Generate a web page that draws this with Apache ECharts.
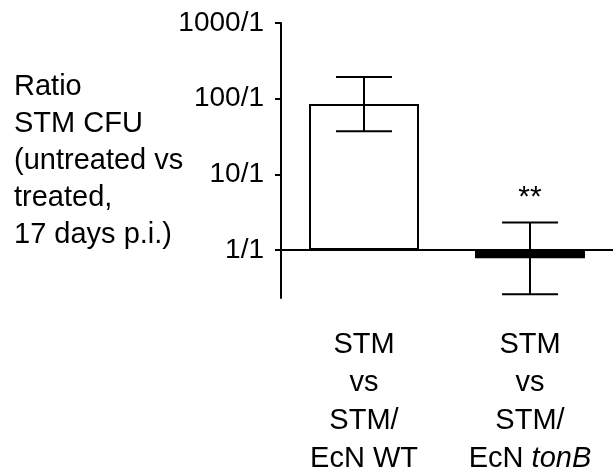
<!DOCTYPE html>
<html>
<head>
<meta charset="utf-8">
<script src="https://cdn.jsdelivr.net/npm/echarts@6/dist/echarts.min.js"></script>
<style>
  html, body { margin: 0; padding: 0; background: #fff; }
  #chart { width: 613px; height: 469px; }
</style>
</head>
<body>
<div id="chart"></div>
<script>
// groups on the x axis
var categories = ['WT', 'tonB'];
// ratio of STM CFU (untreated / treated), log scale
var ratio = [85, 0.78];
var errLow = [37, 0.26];
var errHigh = [193, 2.3];
var signif = ['', '**'];
var yTicks = [1, 10, 100, 1000];

var font = '"Liberation Sans", Arial, sans-serif';
var chart = echarts.init(document.getElementById('chart'));

var option = {
  animation: false,
  grid: { left: 281, right: 0, top: 23, bottom: 171, outerBoundsMode: 'none' },
  xAxis: {
    type: 'category',
    data: categories,
    axisLine: { show: false },
    axisTick: { show: false },
    axisLabel: {
      interval: 0,
      hideOverlap: false,
      margin: 28,
      fontFamily: font,
      fontSize: 29,
      color: '#000',
      lineHeight: 38,
      formatter: function (v) {
        if (v === 'tonB') return 'STM\nvs\nSTM/\nEcN {it|tonB}';
        return 'STM\nvs\nSTM/\nEcN WT';
      },
      rich: {
        it: { fontStyle: 'italic', fontFamily: font, fontSize: 29, color: '#000', lineHeight: 38 }
      }
    }
  },
  yAxis: {
    type: 'log',
    logBase: 10,
    min: 0.232,
    max: 1000,
    splitLine: { show: false },
    axisLine: { show: true, lineStyle: { color: '#000', width: 2 } },
    axisTick: {
      show: true, length: 6, customValues: yTicks,
      lineStyle: { color: '#000', width: 2 }
    },
    axisLabel: {
      customValues: yTicks,
      margin: 17,
      fontFamily: font,
      fontSize: 28,
      color: '#000',
      formatter: function (v) { return Math.round(v) + '/1'; }
    }
  },
  graphic: [{
    type: 'text',
    left: 14,
    top: 68,
    style: {
      text: 'Ratio\nSTM CFU\n(untreated vs\ntreated,\n17 days p.i.)',
      font: '29px ' + font,
      lineHeight: 37,
      fill: '#000'
    }
  }],
  series: [
    {
      type: 'bar',
      data: ratio.map(function (v, i) {
        return {
          value: v,
          itemStyle: { color: i === 0 ? '#fff' : '#000' }
        };
      }),
      barWidth: 110,
      itemStyle: { borderColor: '#000', borderWidth: 2 },
      markLine: {
        silent: true,
        symbol: 'none',
        label: { show: false },
        lineStyle: { color: '#000', width: 2, type: 'solid' },
        data: [{ yAxis: 1 }]
      },
      z: 2
    },
    {
      type: 'custom',
      data: categories.map(function (c, i) { return [i, errLow[i], errHigh[i]]; }),
      renderItem: function (params, api) {
        var lo = api.coord([api.value(0), api.value(1)]);
        var hi = api.coord([api.value(0), api.value(2)]);
        var cap = 28;
        var st = { stroke: '#000', lineWidth: 2 };
        var kids = [
          { type: 'line', shape: { x1: hi[0], y1: hi[1], x2: lo[0], y2: lo[1] }, style: st },
          { type: 'line', shape: { x1: hi[0] - cap, y1: hi[1], x2: hi[0] + cap, y2: hi[1] }, style: st },
          { type: 'line', shape: { x1: lo[0] - cap, y1: lo[1], x2: lo[0] + cap, y2: lo[1] }, style: st }
        ];
        var s = signif[params.dataIndex];
        if (s) {
          kids.push({
            type: 'text',
            x: hi[0], y: hi[1] - 25,
            style: { text: s, font: '30px ' + font, fill: '#000', align: 'center', verticalAlign: 'middle' }
          });
        }
        return { type: 'group', children: kids };
      },
      z: 3
    }
  ]
};

chart.setOption(option);
</script>
</body>
</html>
